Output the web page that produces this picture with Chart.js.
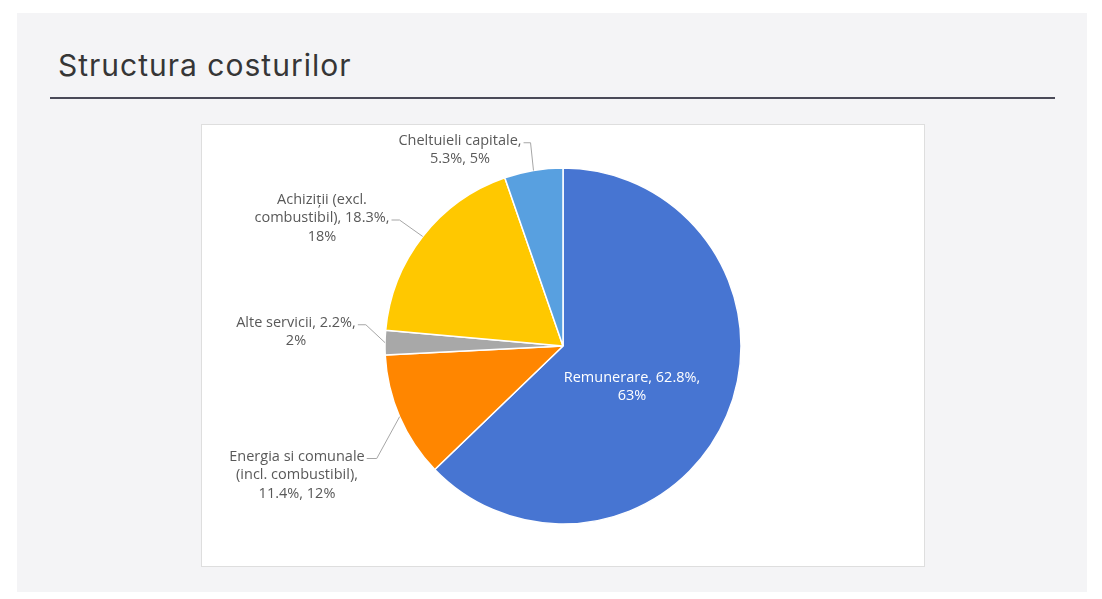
<!DOCTYPE html>
<html>
<head>
<meta charset="utf-8">
<script src="https://cdn.jsdelivr.net/npm/chart.js@4.4.0/dist/chart.umd.min.js"></script>
<style>
  html, body { margin: 0; padding: 0; background: #ffffff; width: 1102px; height: 599px; overflow: hidden; }
  #panel { position: absolute; left: 17px; top: 13px; width: 1070px; height: 579px; background: #f4f4f6; }
  #title { position: absolute; left: 58px; top: 47px; font-family: Inter, "Open Sans", sans-serif; font-size: 30px; letter-spacing: 1px; color: #363636; white-space: nowrap; }
  #rule { position: absolute; left: 50px; top: 97px; width: 1005px; height: 2px; background: #4a4a58; }
  #box { position: absolute; left: 201px; top: 124px; width: 724px; height: 443px; box-sizing: border-box; border: 1px solid #dedede; background: #ffffff; }
  #box canvas { position: absolute; left: 0; top: 0; }
</style>
</head>
<body>
<div id="panel"></div>
<div id="title">Structura costurilor</div>
<div id="rule"></div>
<div id="box"><canvas id="c" width="722" height="441"></canvas></div>
<script>
const categories = [
  "Remunerare",
  "Energia si comunale (incl. combustibil)",
  "Alte servicii",
  "Achiziții (excl. combustibil)",
  "Cheltuieli capitale"
];
const shares = [62.8, 11.4, 2.2, 18.3, 5.3];
const roundedShares = ["63%", "12%", "2%", "18%", "5%"];
const labelLines = [
  ["Remunerare, 62.8%,", "63%"],
  ["Energia si comunale", "(incl. combustibil),", "11.4%, 12%"],
  ["Alte servicii, 2.2%,", "2%"],
  ["Achiziții (excl.", "combustibil), 18.3%,", "18%"],
  ["Cheltuieli capitale,", "5.3%, 5%"]
];
const colors = ["#4775D2", "#FF8600", "#A8A8A8", "#FFC800", "#58A0E0"];

// label placement styles (offsets from pie centre), leader line from given text line
const labelStyle = [
  { dx: 69,   dy: 41,   color: "#ffffff", leader: null },
  { dx: -266, dy: 129,  color: "#595959", leader: 0, elbow: 10 },
  { dx: -267, dy: -14,  color: "#595959", leader: 0, elbow: 8 },
  { dx: -241, dy: -128, color: "#595959", leader: 1, elbow: 8 },
  { dx: -103, dy: -196, color: "#595959", leader: 0, elbow: 7 }
];

const labelPlugin = {
  id: 'pieLabels',
  afterDatasetsDraw(chart) {
    const ctx = chart.ctx;
    const meta = chart.getDatasetMeta(0);
    const lh = 18.5;
    ctx.save();
    ctx.font = '14.5px "Open Sans", "Noto Sans", sans-serif';
    ctx.textAlign = 'center';
    ctx.textBaseline = 'middle';
    meta.data.forEach((arc, i) => {
      const st = labelStyle[i];
      const lines = labelLines[i];
      const cx = arc.x + st.dx, cy = arc.y + st.dy;
      const top = cy - (lines.length - 1) * lh / 2;
      ctx.fillStyle = st.color;
      lines.forEach((t, k) => ctx.fillText(t, cx, top + k * lh));
      if (st.leader !== null) {
        const mid = (arc.startAngle + arc.endAngle) / 2;
        const px = arc.x + Math.cos(mid) * arc.outerRadius;
        const py = arc.y + Math.sin(mid) * arc.outerRadius;
        const ly = top + st.leader * lh + 2;
        const w = ctx.measureText(lines[st.leader]).width;
        const sx = cx + w / 2 + 2;
        ctx.strokeStyle = '#a6a6a6';
        ctx.lineWidth = 1;
        ctx.beginPath();
        ctx.moveTo(sx, ly);
        ctx.lineTo(sx + st.elbow, ly);
        ctx.lineTo(px, py);
        ctx.stroke();
      }
    });
    ctx.restore();
  }
};

new Chart(document.getElementById('c'), {
  type: 'pie',
  data: {
    labels: categories,
    datasets: [{
      data: shares,
      backgroundColor: colors,
      borderColor: '#ffffff',
      borderWidth: 1.5
    }]
  },
  options: {
    responsive: false,
    animation: false,
    radius: 178,
    layout: { padding: { top: 1, bottom: 0, left: 0, right: 0 } },
    plugins: {
      legend: { display: false },
      tooltip: { enabled: false }
    }
  },
  plugins: [labelPlugin]
});
</script>
</body>
</html>
